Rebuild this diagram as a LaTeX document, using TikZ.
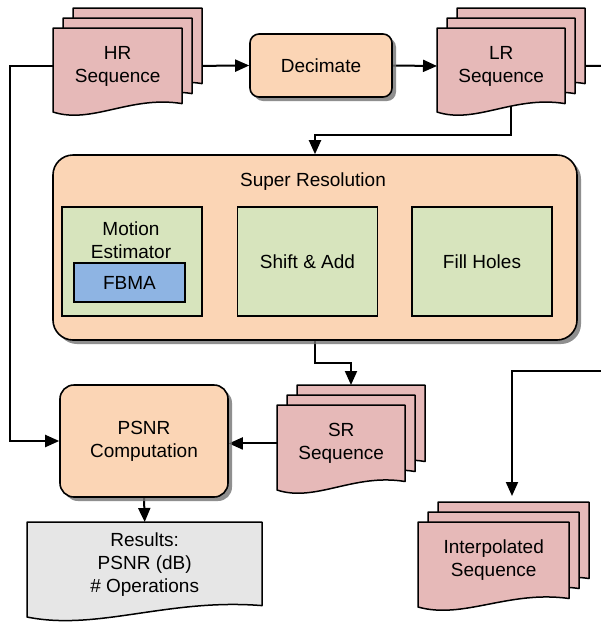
\documentclass[tikz,border=0pt]{standalone}
\usepackage{fontspec}
\setmainfont{Liberation Sans}
\usetikzlibrary{arrows.meta,shadows}
\pgfdeclarelayer{bg}
\pgfsetlayers{bg,main}
\definecolor{pinkfill}{RGB}{230,185,184}
\definecolor{orangefill}{RGB}{251,213,181}
\definecolor{greenfill}{RGB}{215,228,189}
\definecolor{bluefill}{RGB}{142,180,227}
\definecolor{grayfill}{RGB}{230,230,230}
\tikzset{
  every node/.style={font=\fontsize{19}{23}\selectfont},
  conn/.style={line width=2pt, -{Triangle[length=14pt,width=12pt]}},
  plainline/.style={line width=2pt},
  docstyle/.style={draw=black, line width=1.5pt, line join=round},
  procbox/.style={draw=black, line width=1.6pt, fill=orangefill, rounded corners=9pt,
    drop shadow={shadow xshift=4pt, shadow yshift=-4pt, fill=black!55, opacity=0.8}},
  subbox/.style={draw=black, line width=1.5pt, fill=greenfill, minimum width=140pt, minimum height=109pt, inner sep=0pt},
  txt/.style={inner sep=0pt, align=center}
}
% #1 name, #2 x, #3 y, #4 w, #5 h, #6 text
\newcommand\mdoc[6]{%
  \foreach \d in {20,10,0} {
    \filldraw[docstyle, fill=pinkfill] (#2+\d,#3-\d) -- (#2+\d+#4,#3-\d) -- (#2+\d+#4,#3-\d+0.9*#5)
      .. controls (#2+\d+0.6*#4,#3-\d+0.8*#5) and (#2+\d+0.3*#4,#3-\d+1.15*#5) .. (#2+\d,#3-\d+#5) -- cycle;
  }
  \node[txt, anchor=north west, minimum width=#4pt, minimum height=#5*0.9pt] (#1) at (#2,#3) {#6};
  \coordinate (#1-top) at (#2+#4/2+10,#3-20);
  \coordinate (#1-c) at (#2+#4/2+10,#3+#5*0.45);
}
\begin{document}
\begin{tikzpicture}[x=1pt,y=-1pt]
\useasboundingbox (0,0) rectangle (601,622);

% documents
\mdoc{hr}{53}{28}{129}{84}{HR\\Sequence}
\mdoc{lr}{437}{28}{128}{84}{LR\\Sequence}
\mdoc{srseq}{277}{405}{128}{85}{SR\\Sequence}
\mdoc{interp}{418}{522}{151}{85}{Interpolated\\Sequence}

% results document
\filldraw[docstyle, fill=grayfill] (27,522) -- (262,522) -- (262,522+0.88*95)
  .. controls (27+0.6*235,522+0.8*95) and (27+0.3*235,522+1.15*95) .. (27,617) -- cycle;
\node[txt, anchor=north west, minimum width=235pt, minimum height=85.5pt] (res) at (27,522) {Results:\\PSNR (dB)\\\# Operations};

% process boxes
\node[procbox, minimum width=142pt, minimum height=63pt] (dec) at (321,65.5) {Decimate};
\node[procbox, rounded corners=20pt, minimum width=524pt, minimum height=185pt] (srbox) at (315,247.5) {};
\node[txt] (srtitle) at (313,182) {Super Resolution};
\node[procbox, rounded corners=14pt, minimum width=168pt, minimum height=112pt, align=center] (psnr) at (144,441) {PSNR\\Computation};

% inner boxes
\node[subbox] (me) at (132,261.5) {};
\node[txt] (metxt) at (131,240) {Motion\\Estimator};
\node[draw=black, line width=1.5pt, fill=bluefill, minimum width=111pt, minimum height=39pt, inner sep=0pt] (fbma) at (129.5,282.5) {FBMA};
\node[subbox] (sa) at (307.5,261.5) {Shift \& Add};
\node[subbox] (fh) at (482,261.5) {Fill Holes};

\coordinate (j1) at (511,135);
\coordinate (rout) at (601,65.8);
\coordinate (rin) at (601,371);
\coordinate (itop) at (512,496);

\begin{pgfonlayer}{bg}
\fill[white] (0,0) rectangle (601,622);
\draw[conn] (hr.east) -- (dec.west);
\draw[conn] (dec.east) -- (lr.west);
\draw[plainline] (lr.east) -- (rout);
\draw[conn] (lr-c) -- (j1) -| (srbox.north);
\draw[conn] (hr.west) -- ++(-43,0) |- (psnr.west);
\draw[conn] (srbox.south) -- ++(0,22) -| (srseq-top);
\draw[conn] (srseq.west) -- (srseq.west -| psnr.east);
\draw[conn] (psnr.south) -- (res.north);
\draw[conn] (rin) -| (itop);
\draw[conn] (me.east) -- (sa.west);
\draw[conn] (sa.east) -- (fh.west);
\end{pgfonlayer}
\end{tikzpicture}
\end{document}
